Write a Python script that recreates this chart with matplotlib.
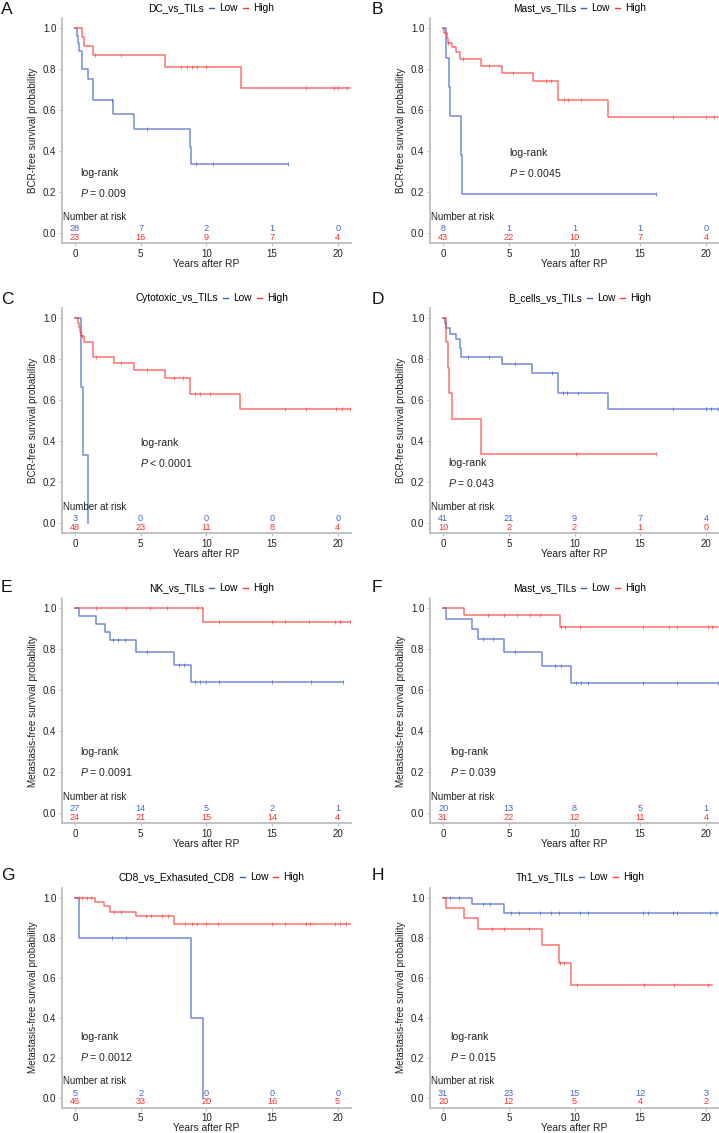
import numpy as np
import matplotlib
matplotlib.use("Agg")
import matplotlib.pyplot as plt
from matplotlib.lines import Line2D

plt.rcParams['font.family'] = ['Liberation Sans', 'DejaVu Sans']
plt.rcParams['mathtext.fontset'] = 'custom'
plt.rcParams['mathtext.it'] = 'Liberation Sans:italic'
plt.rcParams['mathtext.rm'] = 'Liberation Sans'

# ---------------- data ----------------
letters = ["A", "B", "C", "D", "E", "F", "G", "H"]
titles = ["DC_vs_TILs", "Mast_vs_TILs", "Cytotoxic_vs_TILs", "B_cells_vs_TILs",
          "NK_vs_TILs", "Mast_vs_TILs", "CD8_vs_Exhasuted_CD8", "Th1_vs_TILs"]
ylabels = ["BCR-free survival probability"] * 4 + ["Metastasis-free survival probability"] * 4
p_texts = ["= 0.009", "= 0.0045", "< 0.0001", "= 0.043", "= 0.0091", "= 0.039", "= 0.0012", "= 0.015"]
risk_times = [0, 5, 10, 15, 20]

# Low group (event times, survival after event, end of follow-up, censor times)
low_t = [
    [0.15, 0.2, 0.28, 0.5, 1.01, 1.39, 2.87, 4.46, 8.72, 8.8],
    [0.23, 0.45, 0.55, 1.38, 1.42],
    [0.43, 0.58, 1.01],
    [0.13, 0.25, 0.56, 0.96, 1.25, 1.34, 4.48, 6.76, 8.73, 12.53],
    [0.3, 1.57, 2.26, 2.64, 4.66, 7.53, 8.85],
    [0.25, 2.23, 2.66, 4.6, 7.49, 9.77],
    [0.28, 8.85, 9.73],
    [2.2, 4.6],
]
low_s = [
    [0.964, 0.929, 0.889, 0.80, 0.753, 0.651, 0.581, 0.509, 0.42, 0.337],
    [0.857, 0.714, 0.571, 0.381, 0.19],
    [0.667, 0.333, 0.0],
    [0.976, 0.951, 0.923, 0.899, 0.853, 0.812, 0.776, 0.735, 0.634, 0.556],
    [0.963, 0.924, 0.883, 0.844, 0.787, 0.722, 0.641],
    [0.948, 0.899, 0.849, 0.789, 0.717, 0.637],
    [0.8, 0.4, 0.0],
    [0.967, 0.925],
]
low_end = [16.2, 16.2, 1.01, 20.9, 20.4, 20.9, 9.73, 20.9]
low_cens = [
    [2.8, 5.5, 9.2, 10.5, 16.2],
    [16.2],
    [],
    [1.9, 3.5, 5.5, 8.3, 9.1, 9.4, 10.3, 17.5, 20.0, 20.4, 20.9],
    [2.9, 3.3, 3.8, 5.5, 7.9, 8.3, 9.1, 9.5, 10.0, 11.0, 15.0, 18.0, 20.4],
    [3.0, 3.8, 5.5, 8.5, 9.0, 10.1, 10.5, 11.0, 15.2, 17.8, 20.9],
    [2.8, 3.9],
    [0.5, 1.2, 3.0, 3.6, 5.2, 5.8, 7.4, 8.2, 8.8, 10.4, 11.0, 15.2, 15.6, 17.5, 17.8, 20.3, 20.8],
]

# High group
high_t = [
    [0.55, 0.65, 1.34, 6.84, 12.62],
    [0.1, 0.3, 0.38, 0.71, 1.0, 1.3, 2.91, 4.48, 6.84, 8.71, 12.53],
    [0.2, 0.28, 0.35, 0.48, 0.65, 1.37, 2.94, 4.46, 6.84, 8.72, 12.57],
    [0.2, 0.38, 0.46, 0.66, 2.86],
    [9.76],
    [1.57, 8.86],
    [1.55, 2.2, 2.69, 4.66, 7.5],
    [0.25, 1.57, 2.66, 7.49, 8.81, 9.75],
]
high_s = [
    [0.957, 0.913, 0.871, 0.812, 0.709],
    [0.977, 0.953, 0.93, 0.907, 0.884, 0.851, 0.818, 0.782, 0.745, 0.651, 0.566],
    [0.979, 0.958, 0.934, 0.912, 0.887, 0.812, 0.781, 0.748, 0.711, 0.629, 0.559],
    [0.887, 0.76, 0.634, 0.508, 0.337],
    [0.935],
    [0.967, 0.907],
    [0.978, 0.956, 0.93, 0.906, 0.87],
    [0.95, 0.898, 0.842, 0.761, 0.675, 0.561],
]
high_end = [20.9, 20.9, 20.9, 16.2, 20.9, 20.9, 20.9, 20.5]
high_cens = [
    [1.52, 3.47, 8.1, 8.5, 8.9, 9.3, 10.0, 17.6, 19.7, 20.0, 20.7],
    [0.4, 1.5, 3.5, 5.3, 7.8, 8.2, 9.2, 9.5, 10.5, 17.5, 20.0, 20.6],
    [0.55, 1.6, 3.5, 5.5, 7.5, 8.2, 9.1, 9.5, 10.3, 16.0, 17.6, 19.9, 20.3, 20.9],
    [10.1, 16.2],
    [1.6, 3.9, 5.7, 7.0, 9.3, 9.7, 11.0, 15.0, 16.0, 17.8, 19.8, 20.2, 20.9],
    [3.4, 4.6, 5.6, 6.6, 7.4, 9.0, 9.3, 10.4, 15.2, 17.2, 17.8, 20.2, 20.5],
    [0.3, 0.5, 0.9, 1.2, 3.0, 3.5, 5.4, 5.8, 6.6, 7.1, 8.4, 8.9, 9.3, 10.0, 10.9,
     15.0, 16.0, 17.6, 17.9, 19.8, 20.2, 20.6],
    [3.7, 4.6, 6.5, 8.9, 9.2, 10.2, 15.3, 17.6, 20.2],
]

risk_low = [
    [28, 7, 2, 1, 0], [8, 1, 1, 1, 0], [3, 0, 0, 0, 0], [41, 21, 9, 7, 4],
    [27, 14, 5, 2, 1], [20, 13, 8, 5, 1], [5, 2, 0, 0, 0], [31, 23, 15, 12, 3],
]
risk_high = [
    [23, 16, 9, 7, 4], [43, 22, 10, 7, 4], [48, 23, 11, 8, 4], [10, 2, 2, 1, 0],
    [24, 21, 15, 14, 4], [31, 22, 12, 11, 4], [46, 33, 20, 16, 5], [20, 12, 5, 4, 2],
]

# text positions (data coords) for log-rank annotation
lr_pos = [(0.4, 0.293), (5.0, 0.39), (4.97, 0.392), (0.38, 0.294),
          (0.4, 0.296), (0.51, 0.296), (0.4, 0.3), (0.51, 0.3)]

# ---------------- styling ----------------
BLUE = "#3E5FC2"
RED = "#FF3838"
BLUE_T = "#4466C8"
RED_T = "#FF2E2E"
SPINE = "#BDBDBD"

fig = plt.figure(figsize=(7.19, 11.33), dpi=100)
W, H = 719.0, 1133.0

col_left = [61.85, 430.0]
ax_w = 289.0
row_bottom = [243.2, 533.2, 823.2, 1107.5]
ax_h = [225.0, 225.0, 225.0, 220.0]
letter_pos = [(1, 9), (372, 9), (1, 299), (372, 299), (1, 587), (372, 587), (1, 875), (372, 876)]


def step_arrays(t, s, end):
    x = np.concatenate([[0.0], np.asarray(t, float), [end]])
    y = np.concatenate([[1.0], np.asarray(s, float), [s[-1] if len(s) else 1.0]])
    return x, y


def surv_at(tc, t, s):
    t = np.asarray(t, float)
    s = np.asarray(s, float)
    idx = np.searchsorted(t, tc, side='right') - 1
    return np.where(idx < 0, 1.0, s[np.clip(idx, 0, None)])


for i in range(8):
    r, c = divmod(i, 2)
    ax = fig.add_axes([col_left[c] / W, 1 - row_bottom[r] / H, ax_w / W, ax_h[r] / H])
    ax.set_xlim(-1, 21)
    ax.set_ylim(-0.05, 1.05)

    for t, s, end, cens, col in [(low_t[i], low_s[i], low_end[i], low_cens[i], BLUE),
                                 (high_t[i], high_s[i], high_end[i], high_cens[i], RED)]:
        x, y = step_arrays(t, s, end)
        ax.step(x, y, where='post', color=col, lw=1.1, alpha=0.72, zorder=3)
        if len(cens):
            cy = surv_at(np.asarray(cens, float), t, s)
            ax.plot(cens, cy, ls='none', marker='|', ms=3, mew=0.6, color=col, alpha=0.72, zorder=3)

    # log-rank text
    lx, ly = lr_pos[i]
    ax.text(lx, ly, "log-rank", fontsize=7.6, ha='left', va='center', color='#222222')
    ax.text(lx, ly - 0.097, "$P$ " + p_texts[i], fontsize=7.6, ha='left', va='center', color='#222222')

    # number at risk
    ax.text(-0.9, 0.08, "Number at risk", fontsize=7.0, ha='left', va='center', color='#222222')
    for k, tt in enumerate(risk_times):
        ax.text(tt, 0.02, str(risk_low[i][k]), fontsize=6.6, ha='center', va='center', color=BLUE_T)
        ax.text(tt, -0.022, str(risk_high[i][k]), fontsize=6.6, ha='center', va='center', color=RED_T)

    ax.set_xticks(risk_times)
    ax.set_yticks([0.0, 0.2, 0.4, 0.6, 0.8, 1.0])
    ax.set_yticklabels(["0.0", "0.2", "0.4", "0.6", "0.8", "1.0"])
    ax.tick_params(labelsize=7.0, colors=SPINE, labelcolor='#222222', length=2, width=0.8, pad=2)
    for sp in ['top', 'right']:
        ax.spines[sp].set_visible(False)
    for sp in ['left', 'bottom']:
        ax.spines[sp].set_color(SPINE)
        ax.spines[sp].set_linewidth(1.3)
    ax.set_xlabel("Years after RP", fontsize=7.4, labelpad=0, color='#222222')
    ax.set_ylabel(ylabels[i], fontsize=7.1, labelpad=3.5, color='#222222')

    # legend-style title
    handles = [Line2D([], [], color='none'),
               Line2D([], [], color=BLUE, lw=1.0),
               Line2D([], [], color=RED, lw=1.0)]
    labels = [titles[i], "Low", "High"]
    ax.legend(handles, labels, loc='center', bbox_to_anchor=(0.5, 1.0 + 10.0 / ax_h[r]), ncol=3,
              frameon=False, fontsize=7.3, handlelength=0.5, handletextpad=0.5,
              columnspacing=0.5, borderpad=0.0, borderaxespad=0.0)

    lx_px, ly_px = letter_pos[i]
    fig.text(lx_px / W, 1 - ly_px / H, letters[i], fontsize=12.5, ha='left', va='center', color='#111111')

fig.savefig("out.png", dpi=100)
